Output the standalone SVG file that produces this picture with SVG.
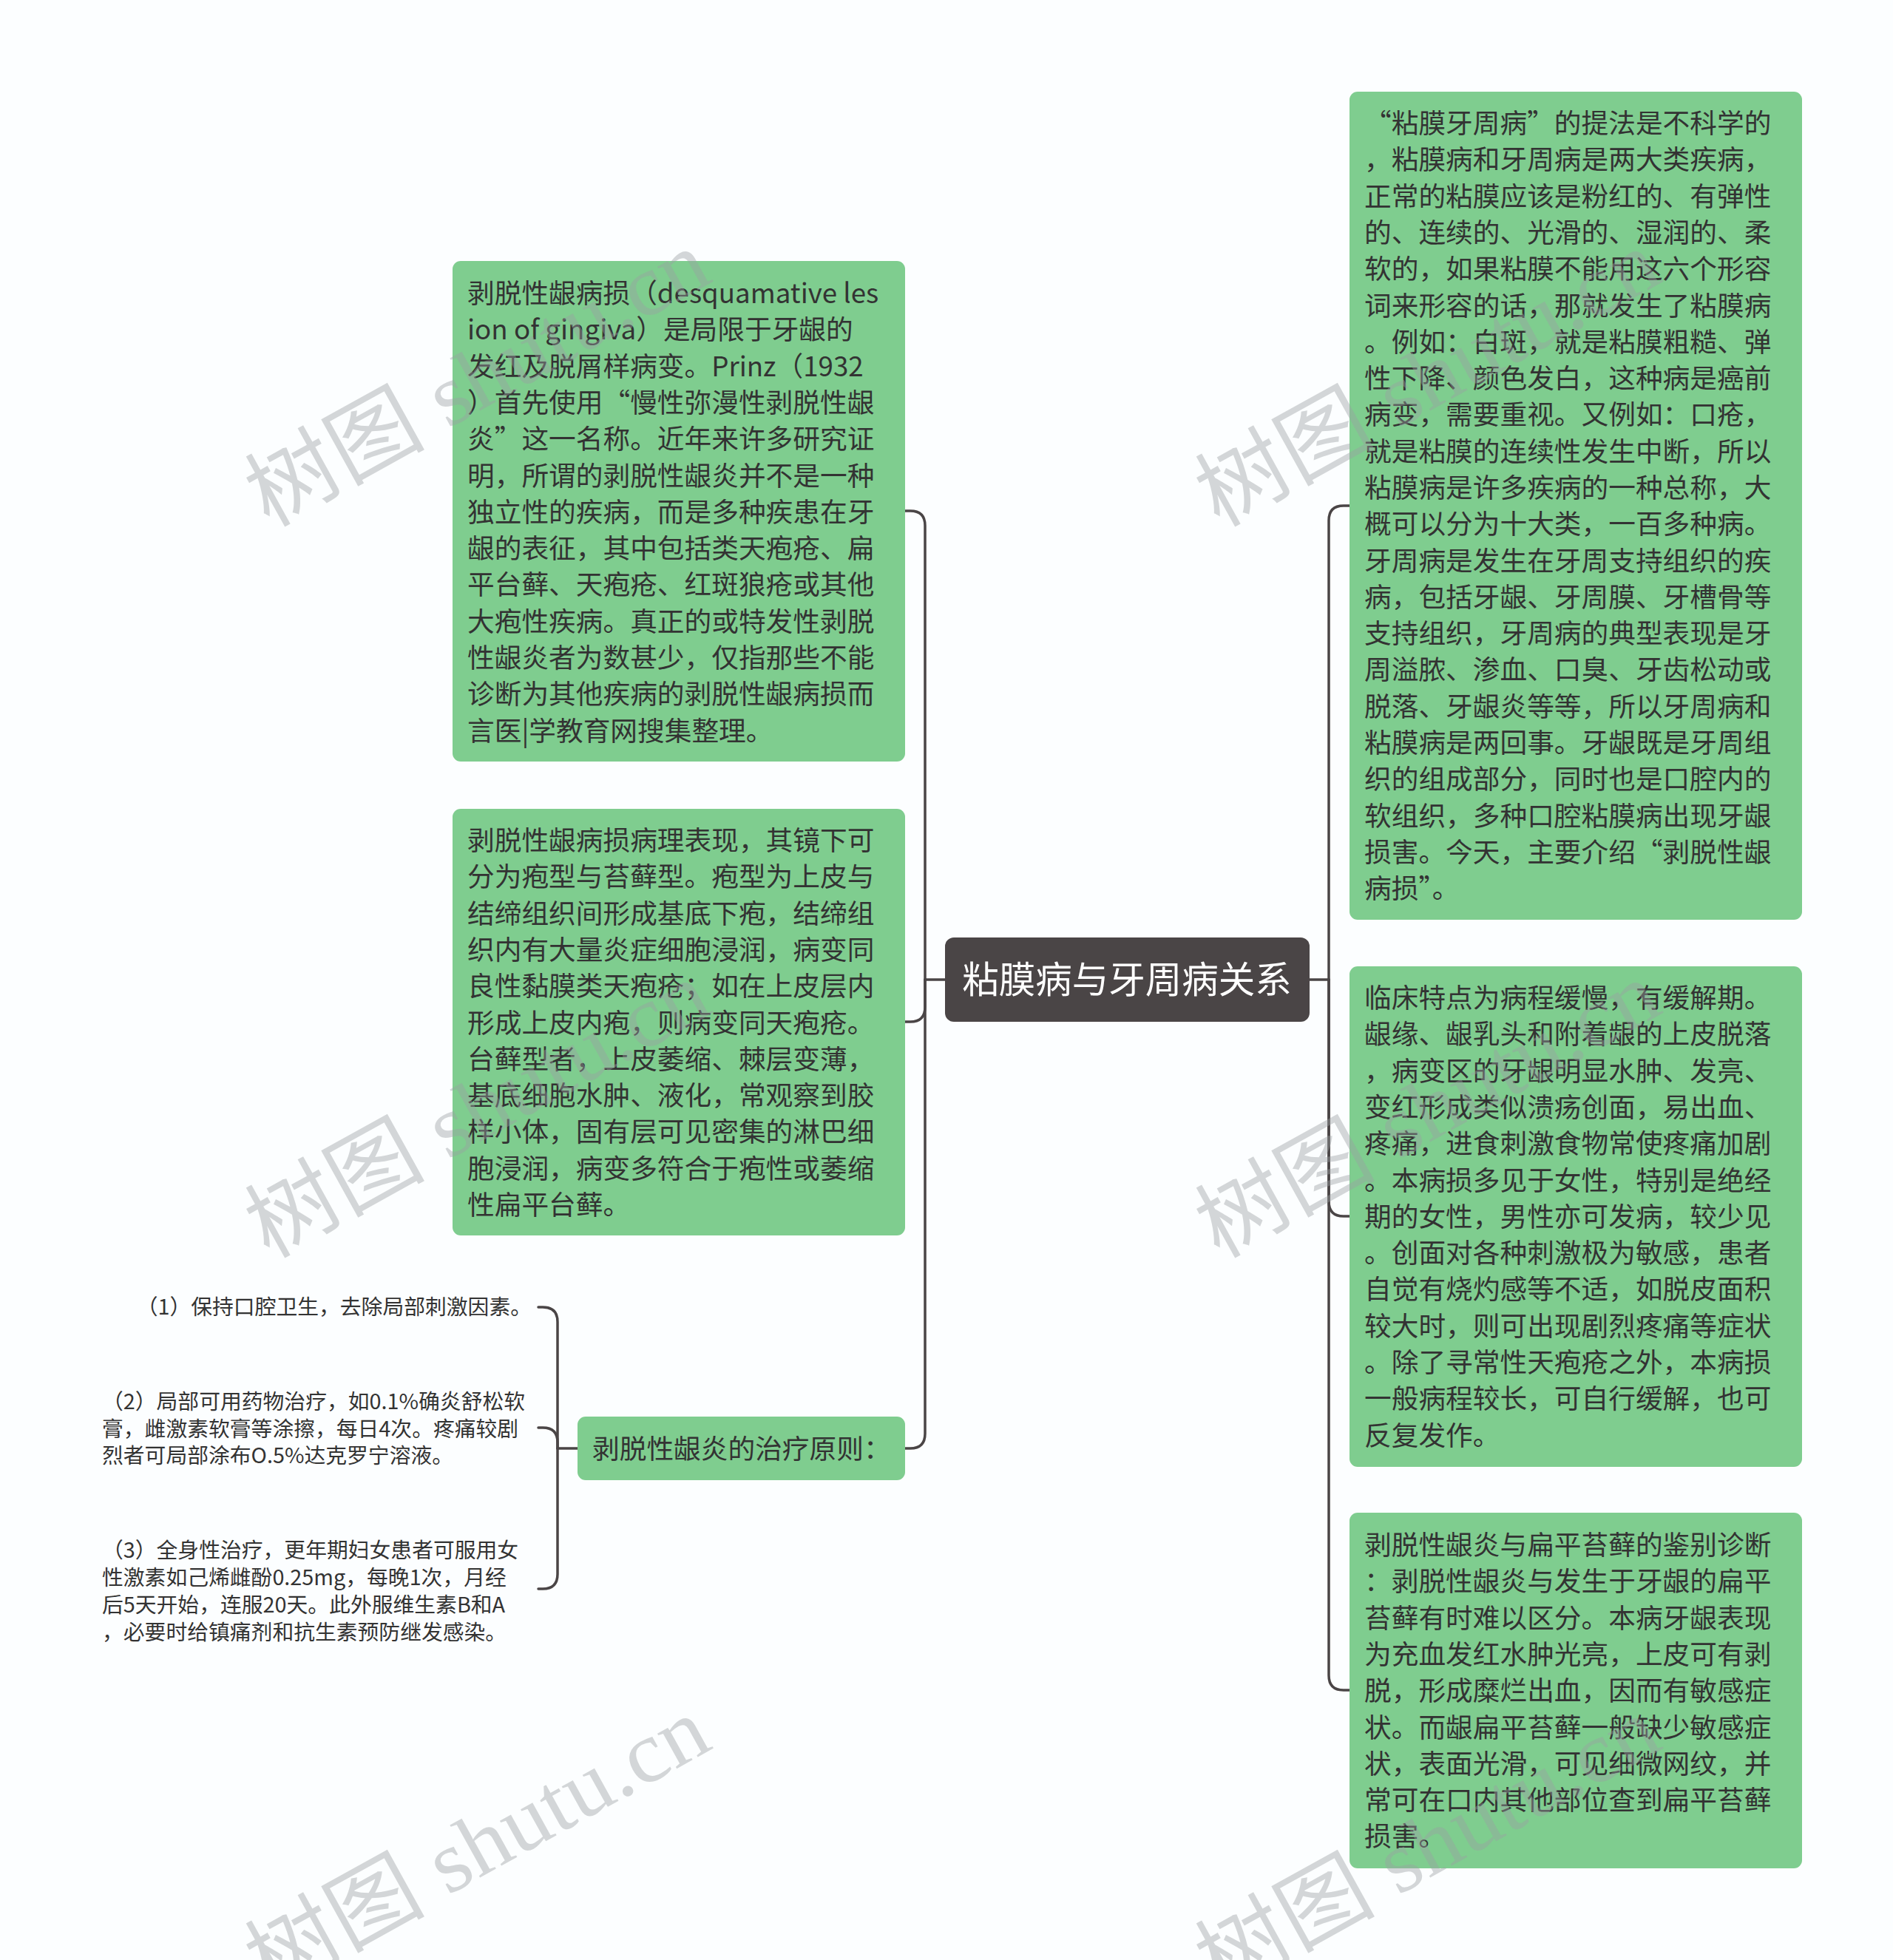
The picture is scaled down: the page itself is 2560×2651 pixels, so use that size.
<svg xmlns="http://www.w3.org/2000/svg" width="2560" height="2651" viewBox="0 0 2560 2651">
<style>
.bg{fill:#fcfeff}
.box{fill:#7fcd8f}
.root{fill:#4a4546}
.t{font-family:"Noto Sans CJK SC","Noto Sans",sans-serif;font-size:36.7px;fill:#333333}
.rt{font-family:"Noto Sans CJK SC","Noto Sans",sans-serif;font-size:49.5px;fill:#ffffff}
.leaf{font-family:"Noto Sans CJK SC","Noto Sans",sans-serif;font-size:28.8px;fill:#333333}
.conn path{fill:none;stroke:#4a4546;stroke-width:3.5;stroke-linecap:round}
.wm{font-family:"Liberation Serif","Noto Sans CJK SC",serif;font-size:118px;fill:#9aa0a3;fill-opacity:0.42}
</style>
<rect class="bg" x="0" y="0" width="2560" height="2651"/>

<g id="connectors" class="conn">
  <path d="M1278,1325 H1251"/>
  <path d="M1251,1325 V711 Q1251,691 1231,691 H1224"/>
  <path d="M1251,1325 V1362 Q1251,1382 1231,1382 H1224"/>
  <path d="M1251,1325 V1939 Q1251,1959 1231,1959 H1224"/>
  <path d="M1771,1325 H1797"/>
  <path d="M1797,1325 V704 Q1797,684 1817,684 H1825"/>
  <path d="M1797,1325 V1625 Q1797,1645 1817,1645 H1825"/>
  <path d="M1797,1325 V2266 Q1797,2286 1817,2286 H1825"/>
  <path d="M781,1959 H754"/>
  <path d="M754,1959 V1788 Q754,1768 734,1768 H728"/>
  <path d="M754,1959 V1951 Q754,1931 734,1931 H728"/>
  <path d="M754,1959 V2129 Q754,2149 734,2149 H728"/>
</g>

<g id="root">
  <rect class="root" x="1278" y="1268" width="493" height="114" rx="12"/>
  <text class="rt" x="1524" y="1343" text-anchor="middle">粘膜病与牙周病关系</text>
</g>

<g id="nodeA">
  <rect class="box" x="612" y="353" width="612" height="677" rx="11"/>
  <text class="t" x="632" y="410">
    <tspan x="632" dy="0">剥脱性龈病损（desquamative les</tspan>
    <tspan x="632" dy="49.3">ion of gingiva）是局限于牙龈的</tspan>
    <tspan x="632" dy="49.3">发红及脱屑样病变。Prinz（1932</tspan>
    <tspan x="632" dy="49.3">）首先使用“慢性弥漫性剥脱性龈</tspan>
    <tspan x="632" dy="49.3">炎”这一名称。近年来许多研究证</tspan>
    <tspan x="632" dy="49.3">明，所谓的剥脱性龈炎并不是一种</tspan>
    <tspan x="632" dy="49.3">独立性的疾病，而是多种疾患在牙</tspan>
    <tspan x="632" dy="49.3">龈的表征，其中包括类天疱疮、扁</tspan>
    <tspan x="632" dy="49.3">平台藓、天疱疮、红斑狼疮或其他</tspan>
    <tspan x="632" dy="49.3">大疱性疾病。真正的或特发性剥脱</tspan>
    <tspan x="632" dy="49.3">性龈炎者为数甚少，仅指那些不能</tspan>
    <tspan x="632" dy="49.3">诊断为其他疾病的剥脱性龈病损而</tspan>
    <tspan x="632" dy="49.3">言医|学教育网搜集整理。</tspan>
  </text>
</g>

<g id="nodeB">
  <rect class="box" x="612" y="1094" width="612" height="577" rx="11"/>
  <text class="t" x="632" y="1150">
    <tspan x="632" dy="0">剥脱性龈病损病理表现，其镜下可</tspan>
    <tspan x="632" dy="49.3">分为疱型与苔藓型。疱型为上皮与</tspan>
    <tspan x="632" dy="49.3">结缔组织间形成基底下疱，结缔组</tspan>
    <tspan x="632" dy="49.3">织内有大量炎症细胞浸润，病变同</tspan>
    <tspan x="632" dy="49.3">良性黏膜类天疱疮；如在上皮层内</tspan>
    <tspan x="632" dy="49.3">形成上皮内疱，则病变同天疱疮。</tspan>
    <tspan x="632" dy="49.3">台藓型者，上皮萎缩、棘层变薄，</tspan>
    <tspan x="632" dy="49.3">基底细胞水肿、液化，常观察到胶</tspan>
    <tspan x="632" dy="49.3">样小体，固有层可见密集的淋巴细</tspan>
    <tspan x="632" dy="49.3">胞浸润，病变多符合于疱性或萎缩</tspan>
    <tspan x="632" dy="49.3">性扁平台藓。</tspan>
  </text>
</g>

<g id="nodeC">
  <rect class="box" x="781" y="1916" width="443" height="86" rx="11"/>
  <text class="t" x="801" y="1973">剥脱性龈炎的治疗原则：</text>
</g>

<g id="leaf1">
  <text class="leaf" x="719" y="1778" text-anchor="end">（1）保持口腔卫生，去除局部刺激因素。</text>
</g>

<g id="leaf2">
  <text class="leaf" x="138" y="1906">
    <tspan x="138" dy="0">（2）局部可用药物治疗，如0.1%确炎舒松软</tspan>
    <tspan x="138" dy="36.6">膏，雌激素软膏等涂擦，每日4次。疼痛较剧</tspan>
    <tspan x="138" dy="36.6">烈者可局部涂布O.5%达克罗宁溶液。</tspan>
  </text>
</g>

<g id="leaf3">
  <text class="leaf" x="138" y="2107">
    <tspan x="138" dy="0">（3）全身性治疗，更年期妇女患者可服用女</tspan>
    <tspan x="138" dy="37">性激素如己烯雌酚0.25mg，每晚1次，月经</tspan>
    <tspan x="138" dy="37">后5天开始，连服20天。此外服维生素B和A</tspan>
    <tspan x="138" dy="37">，必要时给镇痛剂和抗生素预防继发感染。</tspan>
  </text>
</g>

<g id="nodeD">
  <rect class="box" x="1825" y="124" width="612" height="1120" rx="11"/>
  <text class="t" x="1845" y="180">
    <tspan x="1845" dy="0">“粘膜牙周病”的提法是不科学的</tspan>
    <tspan x="1845" dy="49.3">，粘膜病和牙周病是两大类疾病，</tspan>
    <tspan x="1845" dy="49.3">正常的粘膜应该是粉红的、有弹性</tspan>
    <tspan x="1845" dy="49.3">的、连续的、光滑的、湿润的、柔</tspan>
    <tspan x="1845" dy="49.3">软的，如果粘膜不能用这六个形容</tspan>
    <tspan x="1845" dy="49.3">词来形容的话，那就发生了粘膜病</tspan>
    <tspan x="1845" dy="49.3">。例如：白斑，就是粘膜粗糙、弹</tspan>
    <tspan x="1845" dy="49.3">性下降、颜色发白，这种病是癌前</tspan>
    <tspan x="1845" dy="49.3">病变，需要重视。又例如：口疮，</tspan>
    <tspan x="1845" dy="49.3">就是粘膜的连续性发生中断，所以</tspan>
    <tspan x="1845" dy="49.3">粘膜病是许多疾病的一种总称，大</tspan>
    <tspan x="1845" dy="49.3">概可以分为十大类，一百多种病。</tspan>
    <tspan x="1845" dy="49.3">牙周病是发生在牙周支持组织的疾</tspan>
    <tspan x="1845" dy="49.3">病，包括牙龈、牙周膜、牙槽骨等</tspan>
    <tspan x="1845" dy="49.3">支持组织，牙周病的典型表现是牙</tspan>
    <tspan x="1845" dy="49.3">周溢脓、渗血、口臭、牙齿松动或</tspan>
    <tspan x="1845" dy="49.3">脱落、牙龈炎等等，所以牙周病和</tspan>
    <tspan x="1845" dy="49.3">粘膜病是两回事。牙龈既是牙周组</tspan>
    <tspan x="1845" dy="49.3">织的组成部分，同时也是口腔内的</tspan>
    <tspan x="1845" dy="49.3">软组织，多种口腔粘膜病出现牙龈</tspan>
    <tspan x="1845" dy="49.3">损害。今天，主要介绍“剥脱性龈</tspan>
    <tspan x="1845" dy="49.3">病损”。</tspan>
  </text>
</g>

<g id="nodeE">
  <rect class="box" x="1825" y="1307" width="612" height="677" rx="11"/>
  <text class="t" x="1845" y="1363">
    <tspan x="1845" dy="0">临床特点为病程缓慢，有缓解期。</tspan>
    <tspan x="1845" dy="49.3">龈缘、龈乳头和附着龈的上皮脱落</tspan>
    <tspan x="1845" dy="49.3">，病变区的牙龈明显水肿、发亮、</tspan>
    <tspan x="1845" dy="49.3">变红形成类似溃疡创面，易出血、</tspan>
    <tspan x="1845" dy="49.3">疼痛，进食刺激食物常使疼痛加剧</tspan>
    <tspan x="1845" dy="49.3">。本病损多见于女性，特别是绝经</tspan>
    <tspan x="1845" dy="49.3">期的女性，男性亦可发病，较少见</tspan>
    <tspan x="1845" dy="49.3">。创面对各种刺激极为敏感，患者</tspan>
    <tspan x="1845" dy="49.3">自觉有烧灼感等不适，如脱皮面积</tspan>
    <tspan x="1845" dy="49.3">较大时，则可出现剧烈疼痛等症状</tspan>
    <tspan x="1845" dy="49.3">。除了寻常性天疱疮之外，本病损</tspan>
    <tspan x="1845" dy="49.3">一般病程较长，可自行缓解，也可</tspan>
    <tspan x="1845" dy="49.3">反复发作。</tspan>
  </text>
</g>

<g id="nodeF">
  <rect class="box" x="1825" y="2046" width="612" height="481" rx="11"/>
  <text class="t" x="1845" y="2103">
    <tspan x="1845" dy="0">剥脱性龈炎与扁平苔藓的鉴别诊断</tspan>
    <tspan x="1845" dy="49.3">：剥脱性龈炎与发生于牙龈的扁平</tspan>
    <tspan x="1845" dy="49.3">苔藓有时难以区分。本病牙龈表现</tspan>
    <tspan x="1845" dy="49.3">为充血发红水肿光亮，上皮可有剥</tspan>
    <tspan x="1845" dy="49.3">脱，形成糜烂出血，因而有敏感症</tspan>
    <tspan x="1845" dy="49.3">状。而龈扁平苔藓一般缺少敏感症</tspan>
    <tspan x="1845" dy="49.3">状，表面光滑，可见细微网纹，并</tspan>
    <tspan x="1845" dy="49.3">常可在口内其他部位查到扁平苔藓</tspan>
    <tspan x="1845" dy="49.3">损害。</tspan>
  </text>
</g>

<g id="watermarks" class="wm">
  <text x="645" y="552" transform="rotate(-29 645 511)" text-anchor="middle" textLength="690" lengthAdjust="spacingAndGlyphs">树图 shutu.cn</text>
  <text x="1930" y="552" transform="rotate(-29 1930 511)" text-anchor="middle" textLength="690" lengthAdjust="spacingAndGlyphs">树图 shutu.cn</text>
  <text x="645" y="1541" transform="rotate(-29 645 1500)" text-anchor="middle" textLength="690" lengthAdjust="spacingAndGlyphs">树图 shutu.cn</text>
  <text x="1930" y="1541" transform="rotate(-29 1930 1500)" text-anchor="middle" textLength="690" lengthAdjust="spacingAndGlyphs">树图 shutu.cn</text>
  <text x="645" y="2536" transform="rotate(-29 645 2495)" text-anchor="middle" textLength="690" lengthAdjust="spacingAndGlyphs">树图 shutu.cn</text>
  <text x="1930" y="2536" transform="rotate(-29 1930 2495)" text-anchor="middle" textLength="690" lengthAdjust="spacingAndGlyphs">树图 shutu.cn</text>
</g>
</svg>
